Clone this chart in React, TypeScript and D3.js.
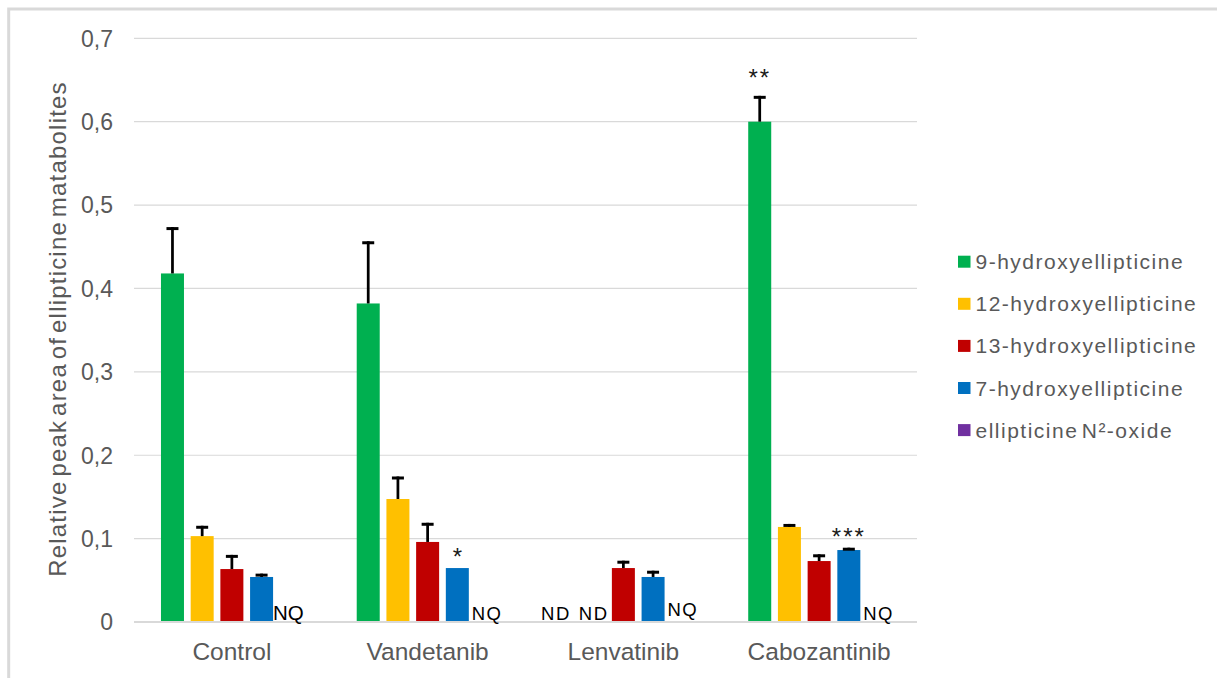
import React from "react";
import * as d3 from "d3";

// Treatment groups along the x axis
const categories = ["Control", "Vandetanib", "Lenvatinib", "Cabozantinib"];

// Metabolite series (legend order)
const seriesNames = [
  "9-hydroxyellipticine",
  "12-hydroxyellipticine",
  "13-hydroxyellipticine",
  "7-hydroxyellipticine",
  "ellipticine N²-oxide",
];
const seriesColors = ["#00B050", "#FFC000", "#C00000", "#0070C0", "#7030A0"];

// Mean relative peak areas (null = not detected / not quantified)
const hydroxy9 = [0.418, 0.382, null, 0.6];
const hydroxy12 = [0.103, 0.1475, null, 0.114];
const hydroxy13 = [0.0635, 0.096, 0.0647, 0.0731];
const hydroxy7 = [0.054, 0.0647, 0.054, 0.0863];
const n2oxide = [null, null, null, null];

// Upper error (SD) for each bar
const err9 = [0.0556, 0.0746, null, 0.031];
const err12 = [0.0124, 0.027, null, 0.0036];
const err13 = [0.017, 0.023, 0.0088, 0.0081];
const err7 = [0.004, 0, 0.0075, 0.0028];
const errN2 = [null, null, null, null];

const seriesValues = [hydroxy9, hydroxy12, hydroxy13, hydroxy7, n2oxide];
const seriesErrors = [err9, err12, err13, err7, errN2];

// Y axis ticks
const yTickValues = [0, 0.1, 0.2, 0.3, 0.4, 0.5, 0.6, 0.7];
const yTickLabels = ["0", "0,1", "0,2", "0,3", "0,4", "0,5", "0,6", "0,7"];

// Significance marks and ND / NQ notes: [category, series index, text]
const significance: [string, number, string][] = [
  ["Vandetanib", 3, "*"],
  ["Cabozantinib", 0, "**"],
  ["Cabozantinib", 3, "***"],
];
const notes: [string, number, string][] = [
  ["Control", 4, "NQ"],
  ["Vandetanib", 4, "NQ"],
  ["Lenvatinib", 0, "ND"],
  ["Lenvatinib", 1, "ND"],
  ["Lenvatinib", 4, "NQ"],
  ["Cabozantinib", 4, "NQ"],
];

const FONT = "'Liberation Sans', Arial, sans-serif";
const TEXT = "#595959";
const GRID = "#D9D9D9";

export default function App() {
  const W = 1217;
  const H = 678;
  const x0 = d3.scaleBand<string>().domain(categories).range([134, 917]).padding(0);
  const x1 = d3
    .scaleBand<string>()
    .domain(seriesNames)
    .range([0, x0.bandwidth()])
    .paddingInner(0.2256)
    .paddingOuter(0.908);
  const y = d3.scaleLinear().domain([0, 0.7]).range([622, 38.3]);

  const slotCenter = (cat: string, si: number) =>
    (x0(cat) as number) + (x1(seriesNames[si]) as number) + x1.bandwidth() / 2;

  const topOf = (cat: string, si: number) => {
    const ci = categories.indexOf(cat);
    const v = seriesValues[si][ci] ?? 0;
    const e = seriesErrors[si][ci] ?? 0;
    return { v, e };
  };

  // gap between the mark and its significance label
  const sigGap: Record<string, number> = { "*": 3, "**": 10, "***": 3 };

  return (
    <svg
      width={W}
      height={H}
      style={{ position: "absolute", left: 0, top: 0, background: "#fff" }}
      fontFamily={FONT}
    >
      <rect x={0} y={0} width={W} height={H} fill="#fff" />
      {/* chart frame */}
      <rect x={8.7} y={9} width={1400} height={800} fill="none" stroke={GRID} strokeWidth={3} />

      {/* gridlines */}
      {yTickValues.slice(1).map((t) => (
        <line key={t} x1={134} x2={917} y1={y(t)} y2={y(t)} stroke={GRID} strokeWidth={1.2} />
      ))}

      {/* y tick labels */}
      {yTickValues.map((t, i) => (
        <text
          key={t}
          x={113}
          y={y(t)}
          dy="0.36em"
          textAnchor="end"
          fontSize={23}
          fill={TEXT}
        >
          {yTickLabels[i]}
        </text>
      ))}

      {/* y axis title */}
      <text
        transform={`translate(65.5, 329) rotate(-90)`}
        textAnchor="middle"
        fontSize={24}
        letterSpacing={1.2}
        wordSpacing={-4}
        fill={TEXT}
      >
        Relative peak area of ellipticine matabolites
      </text>

      {/* bars */}
      {seriesNames.map((s, si) =>
        categories.map((c, ci) => {
          const v = seriesValues[si][ci];
          if (v == null) return null;
          const bx = (x0(c) as number) + (x1(s) as number);
          return (
            <rect
              key={s + c}
              x={bx}
              y={y(v)}
              width={x1.bandwidth()}
              height={y(0) - y(v)}
              fill={seriesColors[si]}
            />
          );
        })
      )}

      {/* error bars */}
      {seriesNames.map((s, si) =>
        categories.map((c, ci) => {
          const v = seriesValues[si][ci];
          const e = seriesErrors[si][ci];
          if (v == null || e == null || e <= 0) return null;
          const cx = slotCenter(c, si);
          const yt = y(v + e);
          return (
            <g key={"e" + s + c}>
              <line x1={cx} x2={cx} y1={y(v)} y2={yt} stroke="#000" strokeWidth={2.75} />
              <line x1={cx - 6} x2={cx + 6} y1={yt + 1.5} y2={yt + 1.5} stroke="#000" strokeWidth={3} />
            </g>
          );
        })
      )}

      {/* baseline */}
      <line x1={134} x2={917} y1={y(0)} y2={y(0)} stroke={GRID} strokeWidth={2} />

      {/* category labels */}
      {categories.map((c) => (
        <text
          key={c}
          x={(x0(c) as number) + x0.bandwidth() / 2}
          y={660}
          textAnchor="middle"
          fontSize={24.5}
          fill={TEXT}
        >
          {c}
        </text>
      ))}

      {/* significance marks */}
      {significance.map(([c, si, t]) => {
        const { v, e } = topOf(c, si);
        return (
          <text
            key={c + t}
            x={slotCenter(c, si)}
            y={y(v + e) - sigGap[t]}
            textAnchor="middle"
            fontSize={24}
            letterSpacing={t.length > 1 ? 2 : 0}
            fill="#1a1a1a"
          >
            {t}
          </text>
        );
      })}

      {/* ND / NQ notes */}
      {notes.map(([c, si, t], i) => {
        const first = c === "Control";
        const nudge = c === "Lenvatinib" && si === 0 ? -8 : first ? -3 : 0;
        return (
          <text
            key={"n" + i}
            x={slotCenter(c, si) + nudge}
            y={c === "Lenvatinib" && si === 4 ? 616 : 620}
            textAnchor="middle"
            fontSize={first ? 20.5 : 18.5}
            letterSpacing={first ? 0 : 1.5}
            fill="#000"
          >
            {t}
          </text>
        );
      })}

      {/* legend */}
      {seriesNames.map((s, i) => {
        const cy = 261.7 + i * 42.1;
        return (
          <g key={"l" + s}>
            <rect x={958} y={cy - 6} width={12.5} height={12} fill={seriesColors[i]} />
            <text
              x={975.5}
              y={cy}
              dy="0.36em"
              fontSize={21}
              letterSpacing={1.5}
              wordSpacing={-4}
              fill={TEXT}
            >
              {s}
            </text>
          </g>
        );
      })}
    </svg>
  );
}
